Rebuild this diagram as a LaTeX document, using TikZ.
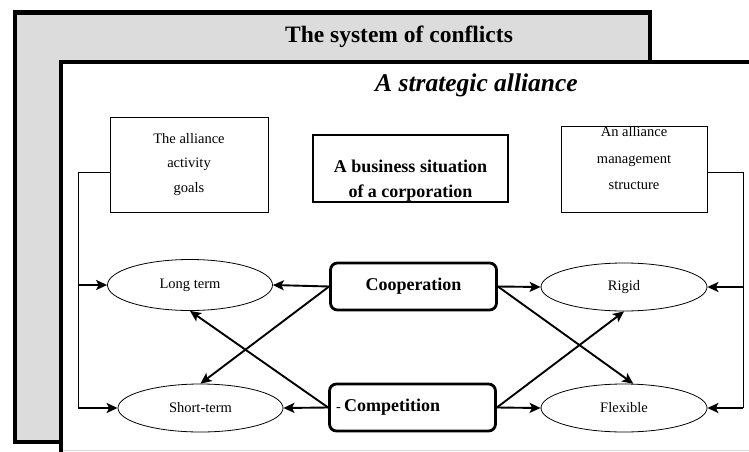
\documentclass[tikz,border=0pt]{standalone}
\usepackage{fontspec}
\setmainfont{Liberation Serif}
\usetikzlibrary{shapes.geometric,arrows.meta}
\definecolor{panelgray}{RGB}{220,220,220}
\definecolor{edgegray}{RGB}{215,215,215}
\begin{document}
\begin{tikzpicture}[x=1pt,y=-1pt,
  boxthin/.style={draw, line width=0.8pt, inner sep=0pt},
  oval/.style={ellipse, draw, line width=0.8pt, minimum width=165pt, minimum height=48pt, inner sep=0pt, font=\fontsize{14.5}{17}\selectfont},
  roundbox/.style={draw, line width=2.8pt, rounded corners=7pt, minimum width=166pt, minimum height=47pt, inner sep=0pt, font=\bfseries\fontsize{18}{21}\selectfont},
  arr/.style={line width=1.9pt, -{Stealth[length=11pt,width=10pt,inset=2.5pt]}},
  thinline/.style={line width=0.9pt}]
\clip (0,0) rectangle (749,452);
\path[fill=white] (0,0) rectangle (749,452);
% outer grey panel
\draw[line width=4.5pt, fill=panelgray] (15,12.5) rectangle (650,442);
% inner white panel
\draw[line width=4pt, fill=white] (61,62) rectangle (800,520);
\draw[edgegray, line width=1pt] (63,450.5) -- (749,450.5);
% titles
\node[anchor=base, font=\bfseries\fontsize{23.5}{28}\selectfont] (title) at (399,43) {The system of conflicts};
\node[anchor=base, font=\bfseries\itshape\fontsize{25.5}{30}\selectfont] (subtitle) at (476.5,92) {A strategic alliance};
% top boxes
\node[boxthin, minimum width=158pt, minimum height=95pt, align=center, font=\fontsize{14.5}{24.5}\selectfont] (goals) at (189,164.5) {The alliance\\activity\\goals};
\node[draw, line width=2.8pt, minimum width=195pt, minimum height=67pt, inner sep=0pt] (situation) at (410.5,168.5) {};
\node[align=center, inner sep=0pt, font=\bfseries\fontsize{18}{25}\selectfont] (situationtext) at (410.5,180.5) {A business situation\\of a corporation};
\node[boxthin, minimum width=146pt, minimum height=86pt] (structure) at (634,169) {};
\node[align=center, inner sep=0pt, font=\fontsize{14.5}{26.5}\selectfont] (structuretext) at (634,158.5) {An alliance\\management\\structure};
% ellipses
\node[oval, minimum height=51pt] (long) at (190,285) {Long term};
\node[oval] (short) at (200.5,408) {Short-term};
\node[oval, minimum width=166pt] (rigid) at (624,287) {Rigid};
\node[oval, minimum width=166pt] (flex) at (624,408) {Flexible};
% centre boxes
\node[roundbox] (coop) at (413.5,286.5) {Cooperation};
\node[roundbox] (comp) at (412.5,407.5) {};
\node[anchor=base west, inner sep=0pt] (comptext) at (336,411) {{\fontsize{14.5}{17}\selectfont -}\hspace{3pt}{\bfseries\fontsize{18}{21}\selectfont Competition}};
% central arrows
\draw[arr] (coop.west) -- (long.east);
\draw[arr] (coop.west) -- (short.north);
\draw[arr] (comp.west) -- (long.south);
\draw[arr] (comp.west) -- (short.east);
\draw[arr] (coop.east) -- (rigid.west);
\draw[arr] (coop.east) -- (flex.69);
\draw[arr] (comp.east) -- (rigid.south);
\draw[arr] (comp.east) -- (flex.west);
% side connectors
\coordinate (L1) at (78,172);
\coordinate (L2) at (78,285);
\coordinate (L3) at (78,408);
\draw[thinline] (goals.west |- L1) -- (L1) -- (L3);
\draw[arr] (L2) -- (long.west);
\draw[arr] (L3) -- (short.west);
\coordinate (R1) at (743,172);
\coordinate (R2) at (743,287);
\coordinate (R3) at (743,408);
\draw[thinline] (structure.east |- R1) -- (R1) -- (R3);
\draw[arr] (R2) -- (rigid.east);
\draw[arr] (R3) -- (flex.east);
\end{tikzpicture}
\end{document}
